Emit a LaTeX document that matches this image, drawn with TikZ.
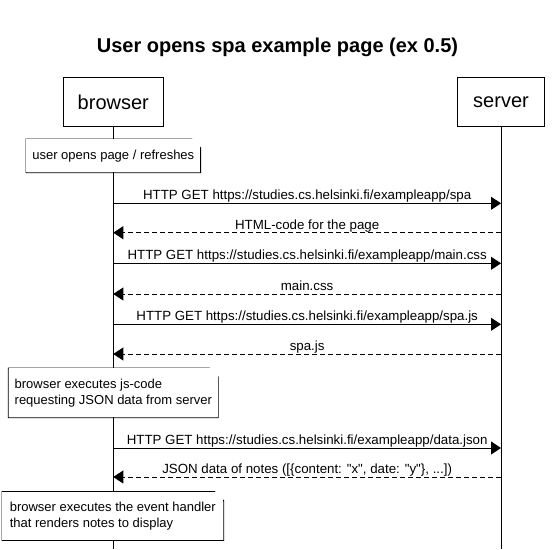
\documentclass[tikz,border=0pt]{standalone}
\usepackage{fontspec}
\setmainfont{Liberation Sans}[Ligatures=TeXOff]
\usetikzlibrary{arrows.meta}

\begin{document}
\begin{tikzpicture}[x=1pt,y=-1pt,line width=0.8pt,
	actor/.style={draw,minimum height=49pt,font=\fontsize{20}{24}\selectfont},
	msg/.style={-{Triangle[length=10pt,width=13pt]}},
	reply/.style={msg,dash pattern=on 5pt off 3pt},
	lbl/.style={above,inner sep=1.5pt,text height=10pt,text depth=1.5pt,font=\fontsize{13.3}{16}\selectfont},
	note/.style={fill=white,align=left,inner xsep=6pt,inner ysep=0pt,font=\fontsize{13}{16}\selectfont,
		append after command={\pgfextra{
			\draw (\tikzlastnode.north west) -- ([xshift=-9pt]\tikzlastnode.north east)
				-- ([yshift=-9pt]\tikzlastnode.north east) -- (\tikzlastnode.south east)
				-- (\tikzlastnode.south west) -- cycle
				([xshift=-9pt]\tikzlastnode.north east) |- ([yshift=-9pt]\tikzlastnode.north east);}}}]
			\path[fill=white,use as bounding box] (0,0) rectangle (557,549);
			\node (Ti) at (277.5,47) [font=\bfseries\fontsize{20}{24}\selectfont] {User opens spa example page (ex 0.5)};
			\node (Br) at (113.3,102) [actor,minimum width=100pt] {browser};
			\node (Se) at (501,102) [actor,minimum width=86.6pt] {server};
			\coordinate (Bz) at (113.3,549);
			\coordinate (Sz) at (501,549);
			\draw (Br) -- (Bz);
			\draw (Se) -- (Sz);
			\foreach \n/\y in {1/203.3,2/232.7,3/263.3,4/294,5/324.3,6/354,7/448,8/477}
				{\coordinate (b\n) at (113.3,\y); \coordinate (s\n) at (501,\y);}
			\node (Uo) at (113.3,155.8) [note,minimum height=33pt] {user opens page / refreshes};
			\draw[msg] (b1) -- node[lbl] {HTTP GET https://studies.cs.helsinki.fi/exampleapp/spa} (s1);
			\draw[reply] (s2) -- node[lbl] {HTML-code for the page} (b2);
			\draw[msg] (b3) -- node[lbl] {HTTP GET https://studies.cs.helsinki.fi/exampleapp/main.css} (s3);
			\draw[reply] (s4) -- node[lbl] {main.css} (b4);
			\draw[msg] (b5) -- node[lbl] {HTTP GET https://studies.cs.helsinki.fi/exampleapp/spa.js} (s5);
			\draw[reply] (s6) -- node[lbl] {spa.js} (b6);
			\node (Bx) at (113.3,392.8) [note,minimum height=49pt] {browser executes js-code\\requesting JSON data from server};
			\draw[msg] (b7) -- node[lbl] {HTTP GET https://studies.cs.helsinki.fi/exampleapp/data.json} (s7);
			\draw[reply] (s8) -- node[lbl] {JSON data of notes ([\{content: "x", date: "y"\}, ...])} (b8);
			\node (Eh) at (112.8,516) [note,minimum height=48pt,inner xsep=7.5pt] {browser executes the event handler\\that renders notes to display};
		\end{tikzpicture}
\end{document}
